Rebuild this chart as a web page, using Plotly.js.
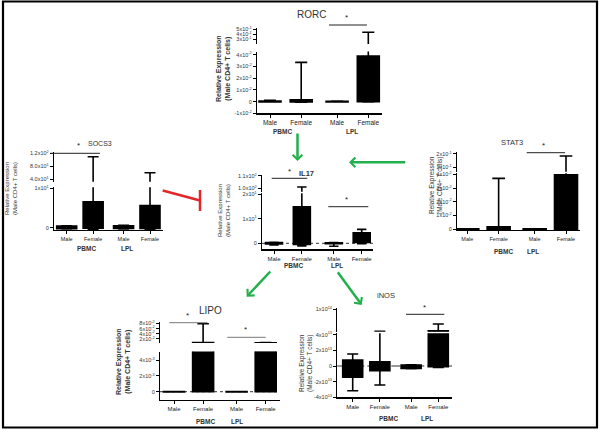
<!DOCTYPE html>
<html><head><meta charset="utf-8">
<script src="https://cdn.plot.ly/plotly-3.0.1.min.js"></script>
<style>html,body{margin:0;padding:0;background:#fff}#chart{width:600px;height:433px}</style>
</head><body><div id="chart"></div>
<script>
// ---------- categories ----------
const sexes = ['Male','Female','Male','Female'];
const tissues = ['PBMC','PBMC','LPL','LPL'];
const groupNames = ['PBMC','LPL'];

// ---------- RORC ----------
const rorcLower  = [-0.0004,-0.0006,-0.0003,-0.0003];
const rorcQ1     = [-0.0003,-0.0002,-0.0002,0];
const rorcMedian = [0,0.0005,0,0.02];
const rorcQ3     = [0.0004,0.0015,0.0002,0.039];
const rorcUpper  = [0.0012,0.0335,0.0004,0.44];
const rorcTicksLow  = [-0.01,0,0.01,0.02,0.03,0.04];
const rorcLabelsLow = ['-1x10<sup>-2</sup>','0','1x10<sup>-2</sup>','2x10<sup>-2</sup>','3x10<sup>-2</sup>','4x10<sup>-2</sup>'];
const rorcTicksHigh  = [0.3,0.4,0.5];
const rorcLabelsHigh = ['3x10<sup>-1</sup>','4x10<sup>-1</sup>','5x10<sup>-1</sup>'];

// ---------- SOCS3 ----------
const socs3Lower  = [-0.3,-0.4,-0.3,-0.4];
const socs3Q1     = [-0.25,-0.1,-0.2,-0.2];
const socs3Median = [0.1,2,0.1,2];
const socs3Q3     = [0.45,6.6,0.5,5.6];
const socs3Upper  = [0.5,109.5,0.6,60];
const socs3TicksLow  = [0,10];
const socs3LabelsLow = ['0','1x10<sup>1</sup>'];
const socs3TicksHigh  = [40,80,120];
const socs3LabelsHigh = ['4.0x10<sup>1</sup>','8.0x10<sup>1</sup>','1.2x10<sup>2</sup>'];

// ---------- STAT3 ----------
const stat3Lower  = [-0.0002,0,-0.0001,0];
const stat3Q1     = [-0.0001,0,0,0];
const stat3Median = [0.0001,0.001,0.0001,0.02];
const stat3Q3     = [0.0003,0.0019,0.0003,0.0396];
const stat3Upper  = [0.0004,0.037,0.0004,0.185];
const stat3TicksLow  = [0,0.01,0.02,0.03,0.04];
const stat3LabelsLow = ['0','1x10<sup>-2</sup>','2x10<sup>-2</sup>','3x10<sup>-2</sup>','4x10<sup>-2</sup>'];
const stat3TicksHigh  = [0.1,0.2];
const stat3LabelsHigh = ['1x10<sup>-1</sup>','2x10<sup>-1</sup>'];

// ---------- IL17 ----------
const il17Lower  = [-0.7,-1.1,-1.2,-0.2];
const il17Q1     = [-0.3,-0.5,-0.2,0.3];
const il17Median = [0,5,0,2];
const il17Q3     = [0.3,14.9,0.2,4.3];
const il17Upper  = [0.4,101,0.3,5.7];
const il17TicksLow  = [0,10,20];
const il17LabelsLow = ['0','1x10<sup>1</sup>','2x10<sup>1</sup>'];
const il17TicksHigh  = [100,110];
const il17LabelsHigh = ['1.0x10<sup>2</sup>','1.1x10<sup>2</sup>'];

// ---------- LIPO ----------
const lipoLower  = [-0.00003,0,-0.00003,0];
const lipoQ1     = [-0.00002,0,-0.00002,0];
const lipoMedian = [0,0.003,0,0.003];
const lipoQ3     = [0.00002,0.0055,0.00002,0.0052];
const lipoUpper  = [0.00003,0.079,0.00003,0.0058];
const lipoTicksLow  = [0,0.002,0.004];
const lipoLabelsLow = ['0','2x10<sup>-3</sup>','4x10<sup>-3</sup>'];
const lipoTicksHigh  = [0.02,0.04,0.06,0.08];
const lipoLabelsHigh = ['2x10<sup>-2</sup>','4x10<sup>-2</sup>','6x10<sup>-2</sup>','8x10<sup>-2</sup>'];

// ---------- iNOS ----------
const inosLower  = [-3.17e13,-2.44e13,-0.35e13,-0.17e13];
const inosQ1     = [-1.45e13,-0.6e13,-0.3e13,-0.1e13];
const inosMedian = [0,0.1e13,-0.1e13,2e13];
const inosQ3     = [0.77e13,0.55e13,0.13e13,4.75e13];
const inosUpper  = [1.54e13,4.6e13,0.15e13,6.4e13];
const inosTicksLow  = [-4e13,-2e13,0,2e13,4e13];
const inosLabelsLow = ['-4x10<sup>13</sup>','-2x10<sup>13</sup>','0','2x10<sup>13</sup>','4x10<sup>13</sup>'];
const inosTicksHigh  = [1e14];
const inosLabelsHigh = ['1x10<sup>14</sup>'];

// ---------- layout helpers (pixel geometry) ----------
const W = 600, H = 433, GAP = 0.15;
const PX = x => x / W, PY = y => 1 - y / H;
const GREEN = '#22b04c', RED = '#e3262a';
const FONT = 'Liberation Sans, Arial, sans-serif';

const panels = [
  {title:'RORC', st:[rorcLower,rorcQ1,rorcMedian,rorcQ3,rorcUpper],
   tk:[rorcTicksLow,rorcLabelsLow,rorcTicksHigh,rorcLabelsHigh],
   g:{xl:257,xr:382,c0:270,c3:368.3,boxW:22,low:[51.5,113.3,-0.010,0.0428],high:[28,44,0.206,0.526],
      catSize:6.5, tpos:[311.7,15,10,false], stars:[[346.7,18]], sig:[[329,367,25,'#222']],
      yt:[224,69,7,true], grp:[[282,131],[351.7,131]], zero:null}},
  {title:'SOCS3', st:[socs3Lower,socs3Q1,socs3Median,socs3Q3,socs3Upper],
   tk:[socs3TicksLow,socs3LabelsLow,socs3TicksHigh,socs3LabelsHigh],
   g:{xl:54,xr:163,c0:66.7,c3:150,boxW:20,low:[187.3,230,-0.58,10.25],high:[151.7,181.7,32.6,124.9],
      catSize:5.5, tpos:[100,143.3,7,false], stars:[[79,145.5]], sig:[[50,100,153.3,'#222']],
      yt:[11,189,6,false], grp:[[86,248.3],[126.7,248.3]], zero:null}},
  {title:'STAT3', st:[stat3Lower,stat3Q1,stat3Median,stat3Q3,stat3Upper],
   tk:[stat3TicksLow,stat3LabelsLow,stat3TicksHigh,stat3LabelsHigh],
   g:{xl:457,xr:580,c0:467.3,c3:566,boxW:23,low:[173.3,230,-0.0005,0.0407],high:[151.7,171.7,0.067,0.217],
      catSize:5.5, tpos:[511.7,142.7,7.5,false], stars:[[543.3,145.5]], sig:[[526.7,565,152.7,'#222']],
      yt:[436,185,6.5,false], grp:[[503.3,251.7],[533.3,251.7]], zero:null}},
  {title:'IL17', st:[il17Lower,il17Q1,il17Median,il17Q3,il17Upper],
   tk:[il17TicksLow,il17LabelsLow,il17TicksHigh,il17LabelsHigh],
   g:{xl:262,xr:373.3,c0:274,c3:361.7,boxW:17,low:[193.3,249.3,-2.45,20.4],high:[175,191.7,97.2,110.8],
      catSize:6, tpos:[306.7,173.3,7.5,true], stars:[[289.3,171],[346.7,200]],
      sig:[[271.7,307.3,178.3,'#222'],[328.3,368.3,206.7,'#222']],
      yt:[224,211,6,false], grp:[[293.3,265],[336.7,265]], zero:'dot'}},
  {title:'LIPO', st:[lipoLower,lipoQ1,lipoMedian,lipoQ3,lipoUpper],
   tk:[lipoTicksLow,lipoLabelsLow,lipoTicksHigh,lipoLabelsHigh],
   g:{xl:160,xr:280,c0:174,c3:265.7,boxW:21,low:[351.5,400,-0.00105,0.00509],high:[322,343,0.004,0.086],
      catSize:6, tpos:[210,310.7,10,false], stars:[[187.7,315.5],[245,329.5]],
      sig:[[169.3,207.3,322.7,'#777'],[227.3,265.7,337.3,'#777']],
      yt:[123,361,7,true], grp:[[205,421],[237.3,421]], zero:'dot'}},
  {title:'iNOS', st:[inosLower,inosQ1,inosMedian,inosQ3,inosUpper],
   tk:[inosTicksLow,inosLabelsLow,inosTicksHigh,inosLabelsHigh],
   g:{xl:337.3,xr:452,c0:352.7,c3:438.3,boxW:20,low:[333.3,397.3,-4.01e13,4.19e13],high:[307.5,331.7,4.5e13,10.44e13],
      catSize:6, tpos:[386,295,7.5,false], stars:[[424,307.5]], sig:[[406,444.3,314.3,'#222']],
      yt:[306,363,6.5,false], grp:[[388.3,418.3],[426.7,418.3]], zero:'dashdot'}}
];

const traces = [];
const layout = {
  width: W, height: H, margin:{l:0,r:0,t:0,b:0},
  paper_bgcolor:'#fff', plot_bgcolor:'rgba(0,0,0,0)',
  font:{family:FONT, color:'#222'}, showlegend:false,
  annotations:[], shapes:[]
};

const axKey = (p, n) => p + 'axis' + (n === 1 ? '' : n);
const axRef = (p, n) => p + (n === 1 ? '' : n);

panels.forEach((P, i) => {
  const g = P.g;
  const pos = sexes.map((s, j) => j + GAP * groupNames.indexOf(tissues[j]));
  const u = (g.c3 - g.c0) / (pos[3] - pos[0]);
  const xrange = [(g.xl - g.c0) / u + pos[0], (g.xr - g.c0) / u + pos[0]];
  const xdom = [g.xl / W, g.xr / W];
  const nA = 2 * i + 1, nB = 2 * i + 2;
  const segs = [[nA, g.low, P.tk[0], P.tk[1]], [nB, g.high, P.tk[2], P.tk[3]]];
  segs.forEach(([n, seg, tv, tt], k) => {
    layout[axKey('x', n)] = {
      domain: xdom, range: xrange, anchor: axRef('y', n), fixedrange: true,
      showgrid: false, zeroline: false,
      visible: k === 0, showline: true, linecolor: '#000', linewidth: 1.2,
      ticks: 'outside', ticklen: 3, tickwidth: 1, tickcolor: '#000',
      tickmode: 'array', tickvals: pos, ticktext: sexes,
      tickfont: {size: g.catSize, color: '#222', family: FONT}
    };
    layout[axKey('y', n)] = {
      domain: [PY(seg[1]), PY(seg[0])], range: [seg[2], seg[3]], anchor: axRef('x', n),
      fixedrange: true, showgrid: false, zeroline: false,
      showline: true, linecolor: '#000', linewidth: 1.2,
      ticks: 'outside', ticklen: 3, tickwidth: 1, tickcolor: '#000',
      tickmode: 'array', tickvals: tv, ticktext: tt,
      tickfont: {size: 5.5, color: '#333', family: FONT}
    };
    traces.push({
      type: 'box', x: pos,
      lowerfence: P.st[0], q1: P.st[1], median: P.st[2], q3: P.st[3], upperfence: P.st[4],
      xaxis: axRef('x', n), yaxis: axRef('y', n),
      width: g.boxW / u, whiskerwidth: 0.55, boxpoints: false,
      fillcolor: '#000', line: {color: '#000', width: 1.6},
      hoverinfo: 'skip', showlegend: false
    });
  });
  // zero reference line
  if (g.zero) {
    layout.shapes.push({type:'line', xref: axRef('x', nA) + ' domain', x0: 0, x1: 1,
      yref: axRef('y', nA), y0: 0, y1: 0, layer: 'below',
      line: {color: '#333', width: 1, dash: g.zero}});
  }
  // title
  layout.annotations.push({xref:'paper', yref:'paper', x: PX(g.tpos[0]), y: PY(g.tpos[1]),
    text: g.tpos[3] ? '<b>' + P.title + '</b>' : P.title, showarrow: false,
    xanchor: 'center', yanchor: 'middle', font: {size: g.tpos[2], color: '#333', family: FONT}});
  // significance
  g.stars.forEach(s => layout.annotations.push({xref:'paper', yref:'paper', x: PX(s[0]), y: PY(s[1]),
    text: '*', showarrow: false, xanchor: 'center', yanchor: 'middle', font: {size: 8, color: '#222'}}));
  g.sig.forEach(s => layout.shapes.push({type:'line', xref:'paper', yref:'paper',
    x0: PX(s[0]), x1: PX(s[1]), y0: PY(s[2]), y1: PY(s[2]), line: {color: s[3], width: 1}}));
  // y title
  const yt = 'Relative Expression<br>(Male CD4+ T cells)';
  layout.annotations.push({xref:'paper', yref:'paper', x: PX(g.yt[0]), y: PY(g.yt[1]),
    text: g.yt[3] ? '<b>' + yt + '</b>' : yt, textangle: -90, showarrow: false,
    xanchor: 'center', yanchor: 'middle', font: {size: g.yt[2], color: '#333', family: FONT}});
  // group labels
  groupNames.forEach((gn, k) => layout.annotations.push({xref:'paper', yref:'paper',
    x: PX(g.grp[k][0]), y: PY(g.grp[k][1]), text: '<b>' + gn + '</b>', showarrow: false,
    xanchor: 'center', yanchor: 'middle', font: {size: 6.5, color: '#333', family: FONT}}));
});

// green arrows (tip, tail in pixels)
const arrows = [
  [297.5, 161, 297.5, 132],
  [349, 162.3, 406.7, 162.3],
  [246.7, 296.7, 271.7, 270],
  [361.7, 305, 336.7, 270.7]
];
arrows.forEach(a => layout.annotations.push({xref:'paper', yref:'paper', x: PX(a[0]), y: PY(a[1]),
  ax: a[2] - a[0], ay: a[3] - a[1], text: '', showarrow: true, arrowhead: 4, arrowsize: 0.75,
  arrowwidth: 2.5, arrowcolor: GREEN, standoff: 0, startstandoff: 0}));

// red inhibition line
layout.shapes.push({type:'line', xref:'paper', yref:'paper', x0: PX(162.7), y0: PY(190.5), x1: PX(200), y1: PY(200.5),
  line: {color: RED, width: 2.5}});
layout.shapes.push({type:'line', xref:'paper', yref:'paper', x0: PX(200), y0: PY(190), x1: PX(200), y1: PY(211),
  line: {color: RED, width: 2.5}});

// frame
layout.shapes.push({type:'rect', xref:'paper', yref:'paper', x0: PX(3), x1: PX(597), y0: PY(1.5), y1: PY(427.5),
  line: {color: '#000', width: 2.2}});

Plotly.newPlot('chart', traces, layout, {staticPlot: true, displayModeBar: false});
</script>
</body></html>
